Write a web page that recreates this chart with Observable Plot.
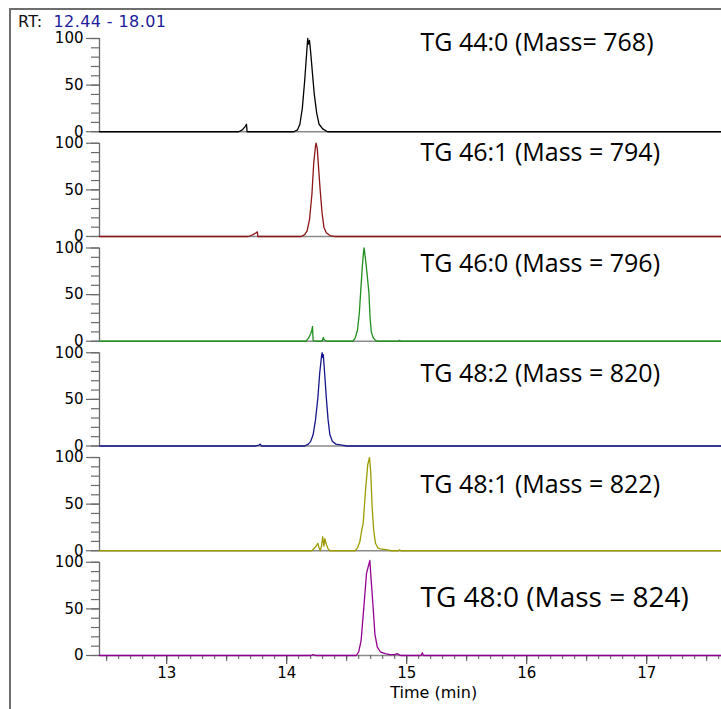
<!DOCTYPE html>
<html>
<head>
<meta charset="utf-8">
<script src="https://cdn.jsdelivr.net/npm/d3@7"></script>
<script src="https://cdn.jsdelivr.net/npm/@observablehq/plot@0.6"></script>
<style>
  html, body { margin: 0; padding: 0; background: #fff; overflow: hidden; }
  #wrap { position: relative; width: 721px; height: 709px; overflow: hidden; background: #fff; }
  #frame { position: absolute; left: 9px; top: 8px; width: 820px; height: 820px; border: 2px solid #6e6e6e; box-sizing: border-box; }
  #rt { position: absolute; left: 18px; top: 12px; font-family: "DejaVu Sans", sans-serif; font-size: 16px; letter-spacing: 0.4px; line-height: 20px; color: #111; white-space: nowrap; }
  #rt .v { color: #1c1c9c; }
  #chart { position: absolute; left: 0; top: 0; }
</style>
</head>
<body>
<div id="wrap">
  <div id="frame"></div>
  <div id="chart"></div>
  <div id="rt"></div>
</div>
<script>
// ---- data ----
const rtStart = 12.44;
const rtEnd = 18.01;
const compounds = ["TG 44:0", "TG 46:1", "TG 46:0", "TG 48:2", "TG 48:1", "TG 48:0"];
const titles = ["TG 44:0 (Mass= 768)", "TG 46:1 (Mass = 794)", "TG 46:0 (Mass = 796)",
                "TG 48:2 (Mass = 820)", "TG 48:1 (Mass = 822)", "TG 48:0 (Mass = 824)"];
const colors = ["#000000", "#8c1616", "#1f8f1f", "#16168a", "#9c9c00", "#930093"];
const yTickLabels = [0, 50, 100];
const xTickLabels = [13, 14, 15, 16, 17];
const xLabel = "Time (min)";

// [time (min), relative abundance (%)]
const tg440 = [[12.44,0],[13.60,0],[13.63,2],[13.65,5],[13.665,8],[13.67,0],[14.06,0],[14.09,2],[14.11,8],[14.13,25],[14.15,55],[14.165,82],[14.175,100],[14.182,94],[14.19,98],[14.20,85],[14.215,62],[14.23,40],[14.25,20],[14.27,8],[14.30,3],[14.34,0],[17.62,0]];
const tg461 = [[12.44,0],[13.68,0],[13.72,2],[13.745,4],[13.755,5],[13.76,0],[14.12,0],[14.15,2],[14.17,6],[14.19,18],[14.21,45],[14.225,78],[14.24,97],[14.245,100],[14.255,94],[14.265,75],[14.28,48],[14.295,25],[14.31,10],[14.33,4],[14.36,1],[14.40,0],[17.62,0]];
const tg460 = [[12.44,0],[14.16,0],[14.18,3],[14.20,8],[14.21,12],[14.215,16],[14.22,1],[14.24,0],[14.295,0],[14.305,4],[14.31,2],[14.32,1],[14.34,0],[14.55,0],[14.57,3],[14.59,12],[14.605,30],[14.615,50],[14.63,80],[14.64,95],[14.645,100],[14.655,90],[14.67,72],[14.685,52],[14.695,25],[14.705,10],[14.72,4],[14.74,1],[14.76,0],[14.93,0],[14.94,1],[14.95,0],[17.62,0]];
const tg482 = [[12.44,0],[13.74,0],[13.77,1],[13.78,2],[13.79,0],[14.15,0],[14.18,2],[14.20,5],[14.22,12],[14.24,28],[14.26,52],[14.275,78],[14.29,96],[14.295,100],[14.30,95],[14.305,98],[14.315,80],[14.33,52],[14.345,28],[14.36,12],[14.38,5],[14.41,2],[14.46,1],[14.50,0],[17.62,0]];
const tg481 = [[12.44,0],[14.21,0],[14.24,4],[14.26,8],[14.27,3],[14.28,0],[14.29,5],[14.30,15],[14.31,5],[14.318,13],[14.33,7],[14.345,2],[14.36,0],[14.57,0],[14.59,3],[14.61,10],[14.625,22],[14.637,29],[14.657,65],[14.675,92],[14.69,100],[14.70,85],[14.712,47],[14.725,22],[14.74,8],[14.76,3],[14.78,2],[14.84,1],[14.87,0],[14.93,0],[14.94,1],[14.95,0],[17.62,0]];
const tg480 = [[12.44,0],[14.20,0],[14.22,1],[14.24,0],[14.58,0],[14.60,4],[14.62,16],[14.643,52],[14.665,88],[14.685,98],[14.693,102],[14.70,88],[14.72,52],[14.735,23],[14.755,9],[14.78,4],[14.82,2],[14.86,1],[14.90,1],[14.92,2],[14.935,1],[14.95,0],[15.12,0],[15.13,3],[15.14,0],[17.62,0]];
const traces = [tg440, tg461, tg460, tg482, tg481, tg480];

// ---- build table ----
const table = [];
traces.forEach((arr, i) => arr.forEach(([t, v]) => table.push({compound: compounds[i], t, v})));
const titleRows = compounds.map((c, i) => ({compound: c, title: titles[i]}));

document.getElementById("rt").innerHTML =
  'RT:&nbsp; <span class="v">' + rtStart.toFixed(2) + " - " + rtEnd.toFixed(2) + "</span>";

const W = 721, H = 709, ML = 99;
const pxPerMin = 120;
const xMax = rtStart + (W - ML) / pxPerMin;

const minorX = d3.range(Math.ceil(rtStart * 10), Math.floor(xMax * 10) + 1).map(d => d / 10);
const halfX = d3.range(Math.ceil(rtStart * 2), Math.floor(xMax * 2) + 1).map(d => d / 2);
const minorY = d3.range(0, 101, 10);
const blank = () => "";

const titleDy = [4, 10, 15.5, 21, 27, 36];
const titleMarks = titleRows.map((r, i) => Plot.text([r], {
  fy: "compound", text: "title", frameAnchor: "top-left", dx: 321, dy: titleDy[i],
  textAnchor: "start", lineAnchor: "middle",
  fontFamily: "Open Sans", fontSize: i === 5 ? 28 : 25, fill: "#000"
}));

const chart = Plot.plot({
  width: W, height: H,
  marginLeft: ML, marginRight: 0, marginTop: 38, marginBottom: 54,
  x: {domain: [rtStart, xMax]},
  y: {domain: [0, 100]},
  fy: {domain: compounds, axis: null, paddingInner: 0.11, paddingOuter: 0, round: false},
  color: {domain: compounds, range: colors},
  style: {fontFamily: "DejaVu Sans", fontSize: "15px", color: "#000", background: "transparent", overflow: "visible"},
  marks: [
    Plot.ruleY([0], {stroke: "#8a8a8a", strokeWidth: 1.6}),
    Plot.ruleX([rtStart], {stroke: "#6a6a6a", strokeWidth: 1.3}),
    Plot.axisY(minorY, {tickSize: 8, tickFormat: blank, stroke: "#6a6a6a", strokeWidth: 1.2, label: null}),
    Plot.axisY(yTickLabels, {tickSize: 13, tickPadding: 3, tickFormat: d => String(d), stroke: "#6a6a6a", strokeWidth: 1.2, fill: "#000", label: null, fontSize: 15}),
    Plot.axisX(minorX, {tickSize: 4, tickFormat: blank, stroke: "#555", strokeWidth: 1, label: null}),
    Plot.axisX(halfX, {tickSize: 6, tickFormat: blank, stroke: "#555", strokeWidth: 1, label: null}),
    Plot.axisX(xTickLabels, {tickSize: 9, tickPadding: 3, tickFormat: d => String(d), stroke: "#555", strokeWidth: 1.2, fill: "#000", label: null, fontSize: 15}),
    Plot.text([{compound: compounds[5], s: xLabel}], {
      fy: "compound", text: "s", x: (rtStart + rtEnd) / 2, frameAnchor: "bottom", dy: 37,
      lineAnchor: "middle", fontSize: 16, fill: "#000"
    }),
    Plot.line(table, {x: "t", y: "v", fy: "compound", z: "compound", stroke: "compound", strokeWidth: 1.3}),
    ...titleMarks
  ]
});
document.getElementById("chart").appendChild(chart);
</script>
</body>
</html>
